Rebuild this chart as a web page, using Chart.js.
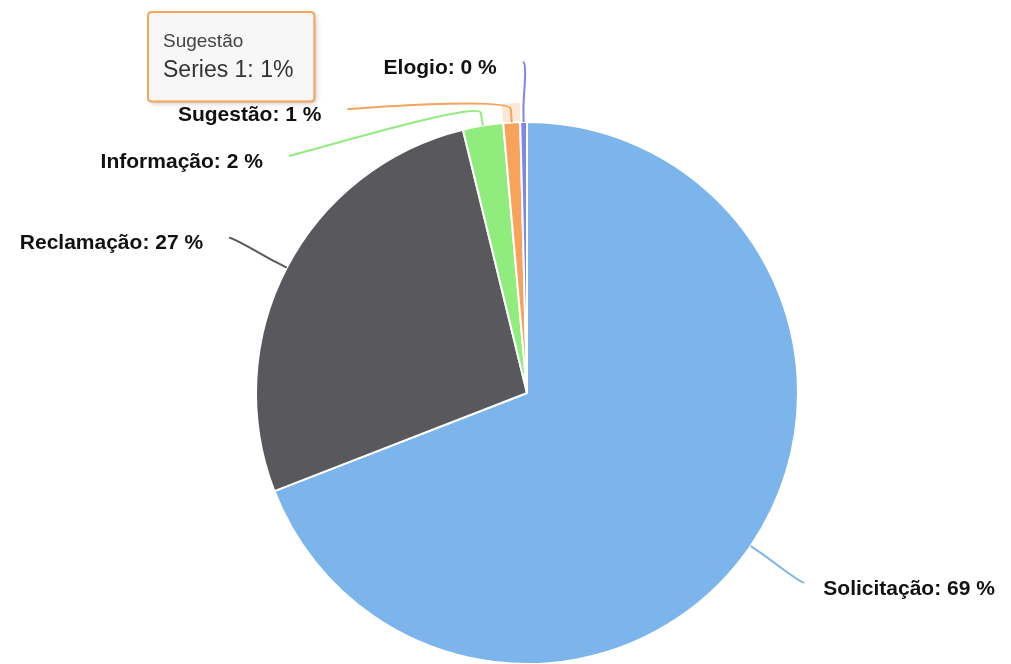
<!DOCTYPE html>
<html>
<head>
<meta charset="utf-8">
<script src="https://cdn.jsdelivr.net/npm/chart.js@4"></script>
<style>
  html, body { margin: 0; padding: 0; background: #fff; overflow: hidden; }
  #wrap { position: relative; width: 1011px; height: 700px; }
</style>
</head>
<body>
<div id="wrap"><canvas id="chart"></canvas></div>
<script>
// data (percent of total)
const categories = ['Solicitação', 'Reclamação', 'Informação', 'Sugestão', 'Elogio'];
const shares = [69.1, 27.1, 2.4, 1.0, 0.4];
const seriesName = 'Series 1';
const sliceColors = ['#7cb5ec', '#58585d', '#90ed7d', '#f7a35c', '#8085e9'];
const hoveredIndex = 3; // tooltip is showing "Sugestão"

const total = shares.reduce((a, b) => a + b, 0);
const pct = i => Math.round(shares[i] / total * 100);

// label + soft connector lines, roughly how the original lib lays them out
const outsideLabels = {
  id: 'outsideLabels',
  beforeDatasetsDraw(chart) {
    // hover halo around the active slice
    const arc = chart.getDatasetMeta(0).data[hoveredIndex];
    const p = arc.getProps(['x', 'y', 'startAngle', 'endAngle', 'outerRadius'], true);
    const ctx = chart.ctx;
    ctx.save();
    ctx.beginPath();
    ctx.arc(p.x, p.y, p.outerRadius + 19, p.startAngle, p.endAngle);
    ctx.arc(p.x, p.y, p.outerRadius, p.endAngle, p.startAngle, true);
    ctx.closePath();
    ctx.fillStyle = 'rgba(247,163,92,0.25)';
    ctx.fill();
    ctx.restore();
  },
  afterDatasetsDraw(chart) {
    const ctx = chart.ctx;
    const meta = chart.getDatasetMeta(0);
    const labelDist = 65, breakDist = 13, spacing = 47, minY = 62;
    const items = meta.data.map((arc, i) => {
      const p = arc.getProps(['x', 'y', 'startAngle', 'endAngle', 'outerRadius'], true);
      const mid = (p.startAngle + p.endAngle) / 2;
      const c = Math.cos(mid), s = Math.sin(mid);
      const R = p.outerRadius + labelDist;
      return {
        i, cx: p.x, cy: p.y, R,
        left: c < 0,
        nx: p.x + R * c, ny: p.y + R * s,
        tx: p.x + p.outerRadius * c, ty: p.y + p.outerRadius * s,
        bx: p.x + (p.outerRadius + breakDist) * c, by: p.y + (p.outerRadius + breakDist) * s
      };
    });
    [true, false].forEach(side => {
      const group = items.filter(d => d.left === side).sort((a, b) => a.ny - b.ny);
      let prev = minY - spacing;
      group.forEach(d => {
        const stacked = prev + spacing;
        d.ly = Math.max(d.ny, stacked);
        if (d.ny < stacked && prev >= minY) {
          // pushed down by the label above: slide along the label circle
          const dy = d.ly - d.cy;
          const dx = Math.sqrt(Math.max(0, d.R * d.R - dy * dy));
          d.lx = d.cx + (side ? -dx : dx);
        } else {
          d.lx = d.nx;
        }
        prev = d.ly;
      });
    });
    ctx.save();
    items.forEach(d => {
      ctx.beginPath();
      ctx.moveTo(d.lx, d.ly);
      ctx.bezierCurveTo(d.lx + (d.left ? 5 : -5), d.ly,
        2 * d.bx - d.tx, 2 * d.by - d.ty, d.bx, d.by);
      ctx.lineTo(d.tx, d.ty);
      ctx.strokeStyle = sliceColors[d.i];
      ctx.lineWidth = 2;
      ctx.stroke();
    });
    ctx.font = 'bold 21px "Liberation Sans", Arial, sans-serif';
    ctx.textBaseline = 'middle';
    ctx.fillStyle = '#111';
    items.forEach(d => {
      const txt = categories[d.i] + ': ' + pct(d.i) + ' %';
      ctx.textAlign = d.left ? 'right' : 'left';
      ctx.fillText(txt, d.left ? d.lx - 26 : d.lx + 19, d.ly + 6);
    });
    ctx.restore();
  },
  beforeTooltipDraw(chart, args) {
    const tt = args.tooltip;
    if (!tt.opacity) return;
    const ctx = chart.ctx;
    ctx.save();
    ctx.shadowColor = 'rgba(0,0,0,0.22)';
    ctx.shadowBlur = 5;
    ctx.shadowOffsetX = 2;
    ctx.shadowOffsetY = 2;
    ctx.fillStyle = '#f7f7f7';
    ctx.beginPath();
    ctx.roundRect(tt.x, tt.y, tt.width, tt.height, 4);
    ctx.fill();
    ctx.restore();
  }
};

Chart.Tooltip.positioners.pinned = function () {
  return { x: 152, y: 12 };
};

const chart = new Chart(document.getElementById('chart'), {
  type: 'pie',
  data: {
    labels: categories,
    datasets: [{
      label: seriesName,
      data: shares,
      backgroundColor: sliceColors,
      hoverBackgroundColor: sliceColors,
      borderColor: '#ffffff',
      hoverBorderColor: '#ffffff',
      borderWidth: 2,
      hoverOffset: 0
    }]
  },
  options: {
    responsive: true,
    maintainAspectRatio: false,
    animation: false,
    events: [],
    layout: { padding: { left: 255, right: 212, top: 121, bottom: 35 } },
    plugins: {
      legend: { display: false },
      tooltip: {
        position: 'pinned',
        xAlign: 'left',
        yAlign: 'top',
        caretSize: 0,
        caretPadding: 0,
        cornerRadius: 4,
        backgroundColor: '#f7f7f7',
        borderColor: '#f7a35c',
        borderWidth: 2,
        displayColors: false,
        titleColor: '#444',
        bodyColor: '#333',
        titleFont: { family: '"Liberation Sans", Arial, sans-serif', size: 19, weight: 'normal' },
        bodyFont: { family: '"Liberation Sans", Arial, sans-serif', size: 23 },
        titleMarginBottom: 4,
        padding: { top: 18, bottom: 17, left: 15, right: 21 },
        callbacks: {
          title: items => categories[items[0].dataIndex],
          label: item => seriesName + ': ' + pct(item.dataIndex) + '%'
        }
      }
    }
  },
  plugins: [outsideLabels]
});

chart.tooltip.setActiveElements([{ datasetIndex: 0, index: hoveredIndex }], { x: 0, y: 0 });
chart.update();
</script>
</body>
</html>
